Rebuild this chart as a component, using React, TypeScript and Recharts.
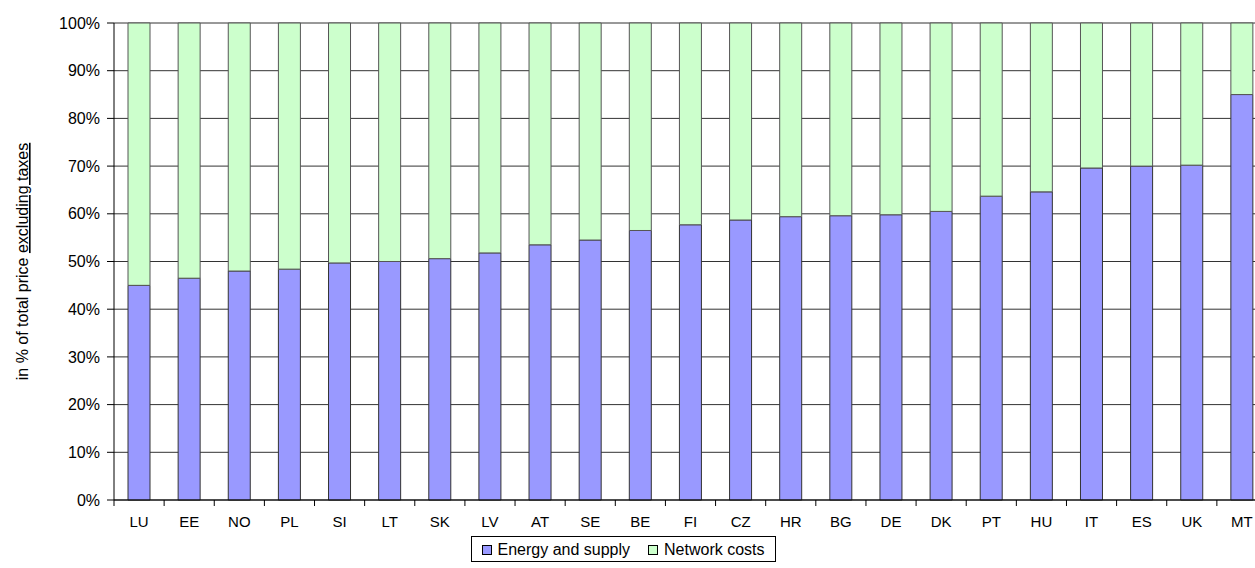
import { BarChart, Bar, XAxis, YAxis, CartesianGrid, Legend } from "recharts";

const countries = ["LU", "EE", "NO", "PL", "SI", "LT", "SK", "LV", "AT", "SE", "BE", "FI", "CZ", "HR", "BG", "DE", "DK", "PT", "HU", "IT", "ES", "UK", "MT"];
const energySupply = [45, 46.5, 48, 48.4, 49.7, 50, 50.6, 51.8, 53.5, 54.5, 56.5, 57.7, 58.7, 59.4, 59.6, 59.8, 60.5, 63.7, 64.6, 69.6, 70, 70.2, 85];
const networkCosts = energySupply.map(v => +(100 - v).toFixed(1));
const yTicks = [0, 10, 20, 30, 40, 50, 60, 70, 80, 90, 100];

const chartData = countries.map((c, i) => ({
    country: c,
    energy: energySupply[i],
    network: networkCosts[i],
}));

const font = "'Liberation Sans', Arial, sans-serif";

const CountryTick = (props: any) => {
    const { x, y, payload } = props;
    const half = payload.offset ?? 25;
    return (
        <g>
            <line x1={x - half} x2={x - half} y1={y - 8} y2={y - 2} stroke="#000" />
            <text x={x} y={y + 19} textAnchor="middle" fontSize={15} fill="#000" fontFamily={font}>
                {payload.value}
            </text>
        </g>
    );
};

const LegendBox = () => (
    <div style={{ display: "flex", justifyContent: "center", height: 32, alignItems: "flex-start" }}>
        <div
            style={{
                boxSizing: "border-box",
                width: 305, height: 26,
                marginLeft: -21,
                border: "1px solid #000",
                padding: "2px 0 0 10px",
                display: "flex", gap: 18,
                fontFamily: font, fontSize: 16, color: "#000",
                whiteSpace: "nowrap",
                overflow: "hidden",
            }}>
            <span style={{ display: "flex", alignItems: "center", gap: 6 }}>
                <span style={{ width: 8, height: 8, background: "#9999FF", border: "1px solid #000" }} />
                Energy and supply
            </span>
            <span style={{ display: "flex", alignItems: "center", gap: 6 }}>
                <span style={{ width: 8, height: 8, background: "#CCFFCC", border: "1px solid #000" }} />
                Network costs
            </span>
        </div>
    </div>
);

export default function App() {
    return (
        <div style={{ position: "absolute", left: 0, top: 0, width: 1255, height: 568, background: "#fff", overflow: "hidden" }}>
            <BarChart
                width={1267} height={568}
                data={chartData}
                margin={{ top: 23, right: 0, left: 0, bottom: 0 }}
                barCategoryGap={0}
            >
                <CartesianGrid vertical={false} stroke="#333" strokeWidth={1} />
                <XAxis
                    dataKey="country"
                    height={36}
                    tickLine={false}
                    axisLine={{ stroke: "#000" }}
                    tick={<CountryTick />}
                    interval={0} />
                <YAxis
                    width={114}
                    domain={[0, 100]}
                    ticks={yTicks}
                    tickFormatter={v => `${v}%`}
                    tick={{ fill: "#000", fontSize: 16, fontFamily: font }}
                    tickLine={{ stroke: "#000" }}
                    tickSize={7}
                    tickMargin={7}
                    axisLine={{ stroke: "#000" }}
                    label={({ viewBox }: any) => {
                        const cy = viewBox.y + viewBox.height / 2;
                        return (
                            <text
                                x={28} y={cy}
                                transform={`rotate(-90, 28, ${cy})`}
                                textAnchor="middle"
                                fontSize={16} fontFamily={font} fill="#000">
                                <tspan>in % of total price </tspan>
                                <tspan textDecoration="underline">excluding taxes</tspan>
                            </text>
                        );
                    }} />
                <Legend verticalAlign="bottom" content={<LegendBox />} wrapperStyle={{ bottom: 0, height: 32 }} />
                <Bar dataKey="energy" name="Energy and supply" stackId="a" fill="#9999FF" stroke="#333" strokeWidth={1} barSize={22} isAnimationActive={false} />
                <Bar dataKey="network" name="Network costs" stackId="a" fill="#CCFFCC" stroke="#555" strokeWidth={1} barSize={22} isAnimationActive={false} />
            </BarChart>
        </div>
    );
}
